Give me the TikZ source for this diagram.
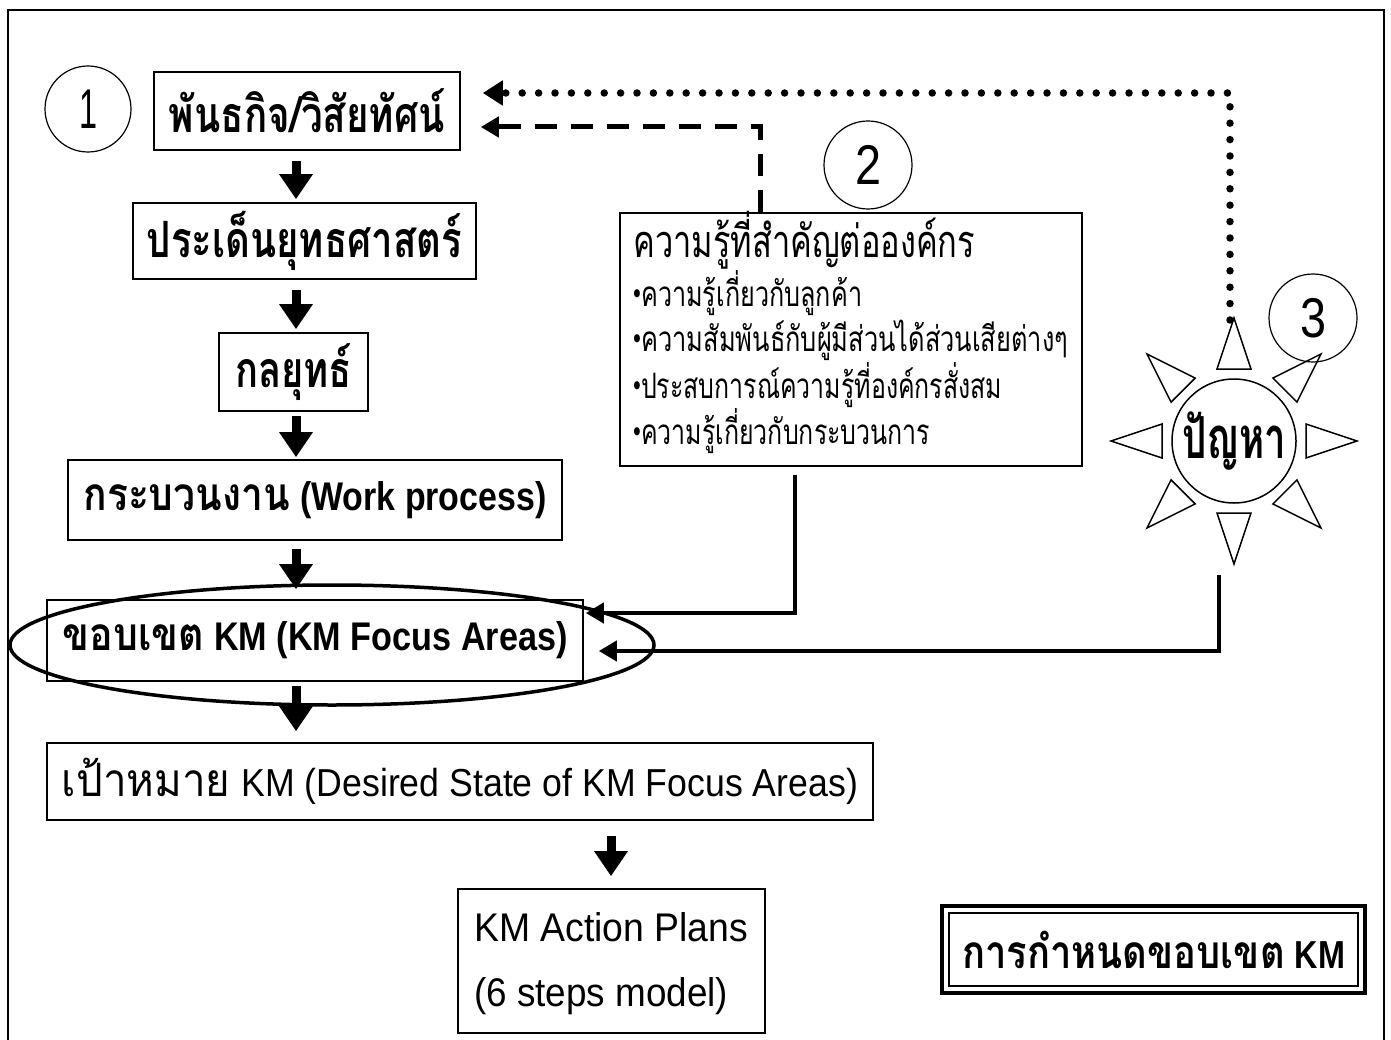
\documentclass[tikz,border=0pt]{standalone}
\usepackage{fontspec}
\usepackage{graphicx}
\usetikzlibrary{arrows.meta,shapes.geometric,calc}
\newfontfamily\thr[Script=Thai]{Loma}
\newfontfamily\lsans{Liberation Sans}
% text helpers: size in pt, then the text
\newcommand\thtext[2]{{\thr\fontsize{#1pt}{#1pt}\selectfont #2}}
\newcommand\thbold[2]{{\thr\bfseries\fontsize{#1pt}{#1pt}\selectfont #2}}
\newcommand\latext[2]{{\lsans\fontsize{#1pt}{#1pt}\selectfont #2}}
\newcommand\labold[2]{{\lsans\bfseries\fontsize{#1pt}{#1pt}\selectfont #2}}
\newcommand\gap{\hspace*{12pt}}
% small list bullet
\newcommand\dotmark{\raisebox{5pt}{\thtext{24}{•}}}
% squeeze a text to a given width, keeping its height
\newcommand\fitw[2]{\resizebox{#1}{\height}{#2}}
\tikzset{
  box/.style={draw, line width=1.6pt, inner sep=0pt, fill=white},
  numcircle/.style={draw, circle, line width=1.2pt, inner sep=0pt,
    minimum size=86pt},
  flow/.style={line width=9pt, -{Triangle[length=25pt,width=32pt]}},
  link/.style={line width=4pt, -{Triangle[length=18pt,width=20pt]}},
  dashlink/.style={line width=5pt, dash pattern=on 22pt off 14pt,
    -{Triangle[length=18pt,width=20pt]}},
  dotlink/.style={line width=7.5pt, line cap=round, dash pattern=on 0pt off 16.4pt,
    -{Triangle[length=20pt,width=24pt]}},
  ray/.style={draw, line width=1.5pt, line join=miter},
}
\begin{document}
\begin{tikzpicture}[x=1pt,y=-1pt]
\useasboundingbox (0,0) rectangle (1391,1040);
\fill[white] (0,0) rectangle (1391,1040);
% outer frame
\draw[line width=2pt] (8,1040) -- (8,10) -- (1384,10) -- (1384,1040);

% main chain of boxes
\node[box, minimum width=306pt, minimum height=78pt] (b1) at (307,111)
  {\fitw{276pt}{\thbold{50}{พันธกิจ/วิสัยทัศน์}}};
\node[box, minimum width=343pt, minimum height=76pt] (b2) at (304.5,241)
  {\fitw{315pt}{\thbold{50}{ประเด็นยุทธศาสตร์}}};
\node[box, minimum width=149pt, minimum height=78pt] (b3) at (293.5,372)
  {\fitw{117pt}{\thbold{50}{กลยุทธ์}}};
\node[box, minimum width=494pt, minimum height=80pt] (b4) at (315,500)
  {\fitw{463pt}{\thbold{46}{กระบวนงาน}\gap\labold{40}{(Work process)}}};
\node[box, minimum width=536pt, minimum height=81pt] (b5) at (315,640.5)
  {\fitw{505pt}{\thbold{46}{ขอบเขต}\gap\labold{40}{KM (KM Focus Areas)}}};
\node[box, minimum width=826pt, minimum height=77pt] (b6) at (460,781.5)
  {\fitw{796pt}{\thtext{46}{เป้าหมาย}\gap\latext{39}{KM (Desired State of KM Focus Areas)}}};
\node[box, minimum width=307pt, minimum height=144pt] (b7) at (611.5,961) {};
\node[anchor=base west, inner sep=0pt] (b7a) at (474,941)
  {\fitw{274pt}{\latext{40}{KM Action Plans}}};
\node[anchor=base west, inner sep=0pt] (b7b) at (474,1006)
  {\fitw{254pt}{\latext{40}{(6 steps model)}}};

% focus ellipse around the KM scope box
\node[draw, ellipse, line width=3.5pt, inner sep=0pt,
  minimum width=644pt, minimum height=120pt] (focus) at (332,645) {};

% title box with a double border
\node[box, minimum width=409pt, minimum height=73pt] (b8) at (1153.5,949.5)
  {\fitw{383pt}{\thbold{46}{การกำหนดขอบเขต}\gap\labold{39}{KM}}};
\draw[line width=3.5pt] ([xshift=-6pt,yshift=-6pt]b8.south west)
  rectangle ([xshift=6pt,yshift=6pt]b8.north east);

% knowledge box
\node[box, minimum width=462pt, minimum height=253pt] (bK) at (851,339.5) {};
\node[anchor=base west, inner sep=0pt] (kt) at (633,258)
  {\fitw{342pt}{\thtext{45}{ความรู้ที่สำคัญต่อองค์กร}}};
\node[anchor=base west, inner sep=0pt] (k1) at (633,306)
  {\fitw{229pt}{\dotmark\thtext{35}{ความรู้เกี่ยวกับลูกค้า}}};
\node[anchor=base west, inner sep=0pt] (k2) at (633,352)
  {\fitw{435pt}{\dotmark\thtext{35}{ความสัมพันธ์กับผู้มีส่วนได้ส่วนเสียต่างๆ}}};
\node[anchor=base west, inner sep=0pt] (k3) at (633,398)
  {\fitw{369pt}{\dotmark\thtext{35}{ประสบการณ์ความรู้ที่องค์กรสั่งสม}}};
\node[anchor=base west, inner sep=0pt] (k4) at (633,444)
  {\fitw{297pt}{\dotmark\thtext{35}{ความรู้เกี่ยวกับกระบวนการ}}};

% numbered circles
\node[numcircle] (n1) at (88,109) {\fitw{18pt}{\lsans\fontsize{56pt}{56pt}\selectfont 1}};
\node[numcircle, minimum size=88pt] (n2) at (868,165) {\fitw{26pt}{\lsans\fontsize{56pt}{56pt}\selectfont 2}};
\node[numcircle, minimum size=88pt] (n3) at (1313,318) {\fitw{26pt}{\lsans\fontsize{56pt}{56pt}\selectfont 3}};

% problem sun
\node[draw, circle, line width=1.5pt, minimum size=124pt, inner sep=0pt] (sun) at (1234,441)
  {\fitw{104pt}{\thbold{58}{ปัญหา}}};
\foreach \a in {0,45,...,315}
  \draw[ray] ($(sun.center)+(\a:123)$) -- ($(sun.center)+(\a:72)+(\a+90:17)$)
    -- ($(sun.center)+(\a:72)+(\a-90:17)$) -- cycle;
\coordinate (raytop) at (1230,320);
\coordinate (sunfoot) at (1219,575);

% flow arrows down the chain
\coordinate (colx) at (296,0);
\coordinate (colr) at (611,0);
\draw[flow] ([yshift=-10pt]b1.south -| colx) -- ([yshift=3pt]b2.north -| colx);
\draw[flow] ([yshift=-10pt]b2.south -| colx) -- ([yshift=3pt]b3.north -| colx);
\draw[flow] ([yshift=-4pt]b3.south -| colx) -- ([yshift=2pt]b4.north -| colx);
\draw[flow] ([yshift=-8pt]b4.south -| colx) -- ([yshift=10pt]b5.north -| colx);
\draw[flow] ([yshift=-4pt]b5.south -| colx) -- ([yshift=11pt]b6.north -| colx);
\draw[flow] ([yshift=-15pt]b6.south -| colr) -- ([yshift=12pt]b7.north -| colr);

% feedback links to the mission box
\coordinate (dcol) at (760,0);
\draw[dashlink] (bK.north -| dcol) |- ([xshift=20pt,yshift=-16pt]b1.east);
\draw[dotlink] (raytop) |- ([xshift=22pt,yshift=18pt]b1.east);

% inputs into the KM scope box
\coordinate (kcol) at (795,0);
\draw[link] ([yshift=-8pt]bK.south -| kcol) |- ([xshift=2pt,yshift=27.5pt]b5.east);
\draw[link] (sunfoot) |- ([xshift=15pt,yshift=-10.5pt]b5.east);
\end{tikzpicture}
\end{document}
